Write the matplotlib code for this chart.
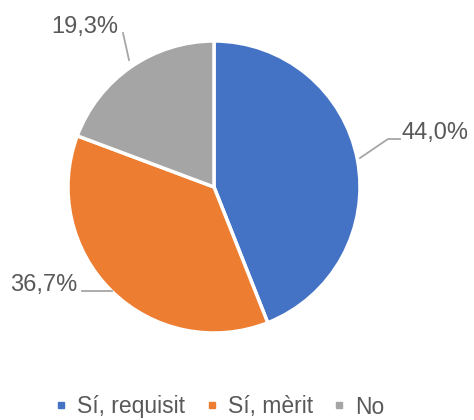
import matplotlib
matplotlib.use("Agg")
import matplotlib.pyplot as plt
from matplotlib.lines import Line2D

categories = ["Sí, requisit", "Sí, mèrit", "No"]
values = [44.0, 36.7, 19.3]
labels = ["44,0%", "36,7%", "19,3%"]
colors = ["#4472C4", "#ED7D31", "#A5A5A5"]

plt.rcParams['font.family'] = ['Liberation Sans', 'DejaVu Sans']
W, H = 474, 420
fig = plt.figure(figsize=(W / 100, H / 100), dpi=100)
ax = fig.add_axes([0, 0, 1, 1])
ax.set_xlim(0, W)
ax.set_ylim(0, H)
ax.set_aspect('equal')
ax.axis('off')

cx, cy, r = 214, H - 187, 146
ax.pie(values, colors=colors, startangle=90, counterclock=False,
       center=(cx, cy), radius=r, frame=True,
       wedgeprops=dict(edgecolor='white', linewidth=2.5))
ax.set_xlim(0, W)
ax.set_ylim(0, H)
ax.axis('off')

txt = "#595959"
line_c = "#A6A6A6"
fs = 17
# leader lines and labels
ax.plot([360, 388, 400], [H - 158, H - 139, H - 139], color=line_c, lw=1.3)
ax.text(402, H - 133, labels[0], fontsize=fs, color=txt, ha='left', va='center')
ax.plot([82, 112], [H - 291, H - 291], color=line_c, lw=1.3)
ax.text(77, H - 285, labels[1], fontsize=fs, color=txt, ha='right', va='center')
ax.plot([123, 129], [H - 33, H - 60], color=line_c, lw=1.3)
ax.text(85, H - 27, labels[2], fontsize=fs, color=txt, ha='center', va='center')

handles = [Line2D([], [], marker='s', linestyle='none', markersize=5,
                  markerfacecolor=c, markeredgecolor=c) for c in colors]
fig.legend(handles, categories, loc='center', ncol=3,
           bbox_to_anchor=(220 / W, (H - 407) / H), frameon=False,
           fontsize=16.5, labelcolor=txt, handletextpad=0.45,
           columnspacing=0.9, handlelength=0.5, borderpad=0.1)

fig.savefig("out.png", dpi=100)
